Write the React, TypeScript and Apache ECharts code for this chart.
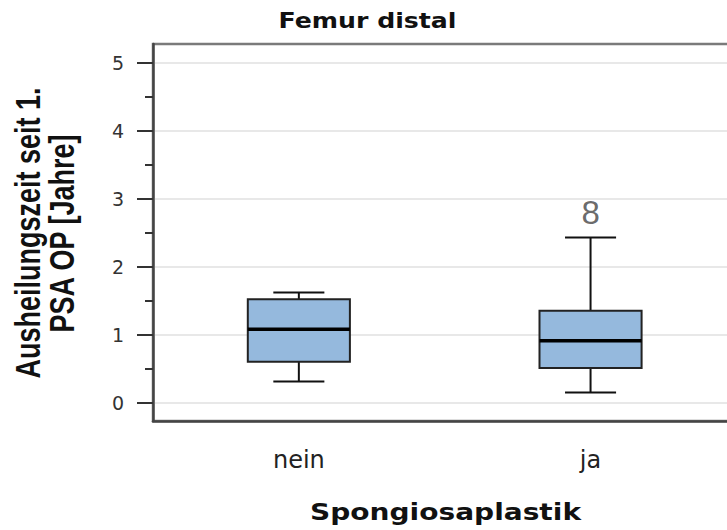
import React, { useEffect, useRef } from "react";
import * as echarts from "echarts";

// Healing time after first PSA surgery, by bone graft (Spongiosaplastik)
const categories = ["nein", "ja"];
// [min, Q1, median, Q3, max] per category (years)
const boxStats = [
  [0.31, 0.6, 1.08, 1.52, 1.62],
  [0.15, 0.51, 0.91, 1.35, 2.43],
];
// outliers: [category index, value, case number]
const outliers = [[1, 2.8, "8"]];
const majorTicks = [0, 1, 2, 3, 4, 5];
const minorTicks = [0.5, 1.5, 2.5, 3.5, 4.5];

const Y_MIN = -0.27;
const Y_MAX = 5.275;

export default function App() {
  const ref = useRef<HTMLDivElement>(null);

  useEffect(() => {
    if (!ref.current) return;
    const chart = echarts.init(ref.current, undefined, { renderer: "svg" });

    const boxData = boxStats.map((s, i) => [i, ...s]);

    const option: any = {
      animation: false,
      backgroundColor: "#ffffff",
      grid: {
        left: 153,
        top: 44,
        width: 583.4,
        height: 377,
        containLabel: false,
        outerBoundsMode: "none",
        show: true,
        borderColor: "#7a7a7a",
        borderWidth: 2.5,
        backgroundColor: "transparent",
      },
      xAxis: {
        type: "category",
        data: categories,
        boundaryGap: true,
        axisLine: { onZero: false, lineStyle: { color: "#444", width: 2.5 } },
        axisTick: { alignWithLabel: true, length: 15, lineStyle: { color: "#333", width: 2 } },
        axisLabel: {
          margin: 27,
          fontSize: 24,
          fontFamily: "DejaVu Sans",
          color: "#222",
        },
        splitLine: { show: false },
      },
      yAxis: [
        {
          type: "value",
          min: Y_MIN,
          max: Y_MAX,
          position: "left",
          axisLine: { show: true, lineStyle: { color: "#444", width: 2.5 } },
          axisTick: {
            show: true,
            customValues: majorTicks,
            length: 16,
            lineStyle: { color: "#333", width: 2 },
          },
          axisLabel: {
            customValues: majorTicks,
            margin: 29,
            fontSize: 19,
            fontFamily: "DejaVu Sans",
            color: "#333",
          },
          splitLine: { show: true, lineStyle: { color: "#e8e8e8", width: 2 } },
        },
        {
          type: "value",
          min: Y_MIN,
          max: Y_MAX,
          position: "left",
          axisLine: { show: false },
          axisTick: {
            show: true,
            customValues: minorTicks,
            length: 8,
            lineStyle: { color: "#333", width: 2 },
          },
          axisLabel: { show: false },
          splitLine: { show: false },
        },
      ],
      series: [
        {
          type: "custom",
          xAxisIndex: 0,
          yAxisIndex: 0,
          data: boxData,
          encode: { x: 0, y: [1, 2, 3, 4, 5] },
          renderItem: (params: any, api: any) => {
            const cat = api.value(0);
            const lo = api.coord([cat, api.value(1)]);
            const q1 = api.coord([cat, api.value(2)]);
            const med = api.coord([cat, api.value(3)]);
            const q3 = api.coord([cat, api.value(4)]);
            const hi = api.coord([cat, api.value(5)]);
            const band = api.size([1, 0])[0];
            const bw = band * 0.35;
            const cw = bw / 2;
            const x = lo[0];
            const whisker = { stroke: "#111", lineWidth: 2 };
            return {
              type: "group",
              children: [
                { type: "line", shape: { x1: x, y1: hi[1], x2: x, y2: q3[1] }, style: whisker },
                { type: "line", shape: { x1: x, y1: q1[1], x2: x, y2: lo[1] }, style: whisker },
                { type: "line", shape: { x1: x - cw / 2, y1: hi[1], x2: x + cw / 2, y2: hi[1] }, style: whisker },
                { type: "line", shape: { x1: x - cw / 2, y1: lo[1], x2: x + cw / 2, y2: lo[1] }, style: whisker },
                {
                  type: "rect",
                  shape: { x: x - bw / 2, y: q3[1], width: bw, height: q1[1] - q3[1] },
                  style: { fill: "#95b9dd", stroke: "#222", lineWidth: 2 },
                },
                {
                  type: "line",
                  shape: { x1: x - bw / 2, y1: med[1], x2: x + bw / 2, y2: med[1] },
                  style: { stroke: "#000", lineWidth: 3.5 },
                },
              ],
            };
          },
        },
        {
          type: "scatter",
          xAxisIndex: 0,
          yAxisIndex: 0,
          symbolSize: 0,
          data: outliers.map((o) => ({ value: [o[0], o[1]], name: String(o[2]) })),
          label: {
            show: true,
            position: "inside",
            formatter: (p: any) => p.name,
            fontSize: 33,
            fontFamily: "Liberation Sans",
            color: "#444",
          },
        },
      ],
      graphic: [
        {
          type: "text",
          x: 367.5,
          y: 20.5,
          scaleX: 1.2,
          style: {
            text: "Femur distal",
            font: "bold 21px 'DejaVu Sans'",
            fill: "#111",
            textAlign: "center",
            textVerticalAlign: "middle",
          },
        },
        {
          type: "text",
          x: 445.5,
          y: 511.5,
          scaleX: 1.22,
          style: {
            text: "Spongiosaplastik",
            font: "bold 23px 'DejaVu Sans'",
            fill: "#111",
            textAlign: "center",
            textVerticalAlign: "middle",
          },
        },
        {
          type: "text",
          x: 28.5,
          y: 233,
          rotation: Math.PI / 2,
          scaleY: 1.3,
          style: {
            text: "Ausheilungszeit seit 1.",
            font: "bold 27px 'Liberation Sans'",
            fill: "#111",
            textAlign: "center",
            textVerticalAlign: "middle",
          },
        },
        {
          type: "text",
          x: 62.5,
          y: 233.5,
          rotation: Math.PI / 2,
          scaleY: 1.3,
          style: {
            text: "PSA OP [Jahre]",
            font: "bold 27px 'Liberation Sans'",
            fill: "#111",
            textAlign: "center",
            textVerticalAlign: "middle",
          },
        },
      ],
    };

    chart.setOption(option);
    return () => chart.dispose();
  }, []);

  return (
    <div
      ref={ref}
      style={{ position: "fixed", left: 0, top: 0, width: 727, height: 530 }}
    />
  );
}
